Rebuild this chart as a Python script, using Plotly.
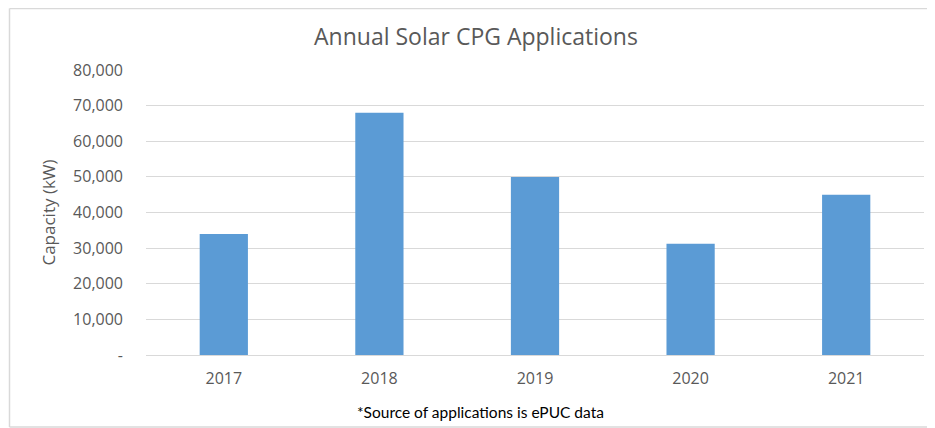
import plotly.graph_objects as go

years = ["2017", "2018", "2019", "2020", "2021"]
capacity_kw = [34000, 68000, 50000, 31200, 45000]
y_tick_vals = [0, 10000, 20000, 30000, 40000, 50000, 60000, 70000, 80000]
y_tick_text = ["-", "10,000", "20,000", "30,000", "40,000", "50,000", "60,000", "70,000", "80,000"]

# page body has an 8px margin, so the figure is drawn 8px in from the window corner
OFF = 8
W, H = 935 - OFF, 428 - OFF
ml, mr, mt, mb = 146 - OFF, 11, 70 - OFF, 73
pw, ph = W - ml - mr, H - mt - mb

def px(x):
    return (x - OFF - ml) / pw

def py(y):
    return (H - mb - (y - OFF)) / ph

border = dict(color="#d9d9d9", width=1.5)

fig = go.Figure()
fig.add_trace(go.Bar(
    x=years, y=capacity_kw,
    marker=dict(color="#5b9bd5", line=dict(width=0)),
    hoverinfo="x+y",
))

fig.update_layout(
    width=W, height=H,
    margin=dict(l=ml, r=mr, t=mt, b=mb),
    paper_bgcolor="white", plot_bgcolor="white",
    bargap=0.69,
    showlegend=False,
    font=dict(family="Open Sans, Noto Sans, sans-serif", color="#595959"),
    title=dict(text="Annual Solar CPG Applications", x=(476 - OFF) / W, xanchor="center",
               y=1 - (37 - OFF) / H, yanchor="middle",
               font=dict(size=23, color="#595959", family="Open Sans, sans-serif")),
    xaxis=dict(showgrid=False, showline=False, ticks="", zeroline=False,
               ticklabelstandoff=12,
               tickfont=dict(size=16, color="#595959")),
    yaxis=dict(range=[0, 80000], tickvals=y_tick_vals, ticktext=y_tick_text,
               showgrid=True, gridcolor="#d9d9d9", gridwidth=1,
               zeroline=True, zerolinecolor="#d9d9d9", zerolinewidth=1,
               showline=False, ticks="", ticklabelstandoff=22,
               tickfont=dict(size=16, color="#595959"),
               title=dict(text="Capacity (kW)", standoff=13,
                          font=dict(size=17, color="#595959"))),
    shapes=[
        dict(type="line", xref="paper", yref="paper",
             x0=px(9.5), x1=px(940), y0=py(8.5), y1=py(8.5), line=border, layer="below"),
        dict(type="line", xref="paper", yref="paper",
             x0=px(9.5), x1=px(9.5), y0=py(8.5), y1=py(427), line=border, layer="below"),
        dict(type="line", xref="paper", yref="paper",
             x0=px(9.5), x1=px(940), y0=py(427), y1=py(427), line=border, layer="below"),
    ],
    annotations=[dict(text="*Source of applications is ePUC data",
                      xref="paper", yref="paper", x=px(480), y=py(412),
                      xanchor="center", yanchor="middle", showarrow=False,
                      font=dict(size=15.5, color="#000000", family="Lato, Noto Sans, sans-serif"))],
)

fig.write_html("out.html")
